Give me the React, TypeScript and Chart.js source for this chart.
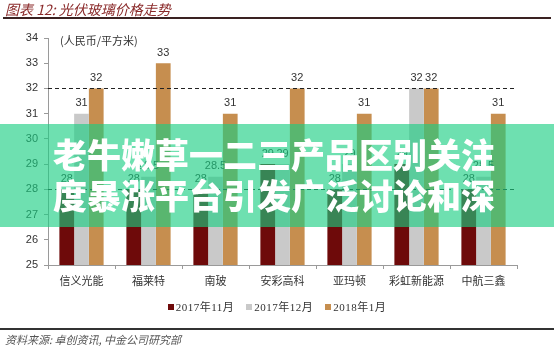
import React, { useEffect, useRef } from "react";
import { Chart, registerables } from "chart.js";

Chart.register(...registerables);

const categories = ["信义光能", "福莱特", "南玻", "安彩高科", "亚玛顿", "彩虹新能源", "中航三鑫"];
const seriesNames = ["2017年11月", "2017年12月", "2018年1月"];
const nov2017 = [28, 28, 28, 29, 28, 29, 28];
const dec2017 = [31, 28.5, 28.5, 29, 29, 32, 28.5];
const jan2018 = [32, 33, 31, 32, 31, 32, 31];
const refLines = [32, 28];
const yMin = 25;
const yMax = 34;

const colors = ["#6E0A0A", "#C9C9C9", "#C68E4F"];

const labelFont = "'Liberation Sans', 'DejaVu Sans', sans-serif";
const cjkFont = "'Noto Sans CJK SC', sans-serif";
const legendFont = "'Liberation Serif', 'Noto Sans CJK SC', serif";

export default function App() {
  const canvasRef = useRef<HTMLCanvasElement | null>(null);

  useEffect(() => {
    document.body.style.margin = "0";
    const canvas = canvasRef.current;
    if (!canvas) return;

    const overlayPlugin = {
      id: "overlayPlugin",
      afterDatasetsDraw(chart: any) {
        const ctx = chart.ctx;
        const area = chart.chartArea;
        const y = chart.scales.y;
        ctx.save();
        ctx.strokeStyle = "#222";
        ctx.lineWidth = 1;
        ctx.setLineDash([4, 3]);
        refLines.forEach((v) => {
          const py = Math.round(y.getPixelForValue(v)) + 0.5;
          ctx.beginPath();
          ctx.moveTo(area.left, py);
          ctx.lineTo(area.right - 2, py);
          ctx.stroke();
        });
        ctx.restore();
        ctx.save();
        ctx.fillStyle = "#333";
        ctx.font = `11px ${labelFont}`;
        ctx.textAlign = "center";
        ctx.textBaseline = "bottom";
        chart.data.datasets.forEach((ds: any, i: number) => {
          const meta = chart.getDatasetMeta(i);
          meta.data.forEach((bar: any, j: number) => {
            ctx.fillText(String(ds.data[j]), bar.x, bar.y - 5);
          });
        });
        ctx.restore();
        ctx.save();
        ctx.fillStyle = "#333";
        ctx.font = `11px ${cjkFont}`;
        ctx.textBaseline = "middle";
        ctx.fillText("(人民币/平方米)", area.left + 12, area.top + 3);
        ctx.restore();
      },
    };

    const chart = new Chart(canvas, {
      type: "bar",
      data: {
        labels: categories,
        datasets: [
          { label: seriesNames[0], data: nov2017, backgroundColor: colors[0] },
          { label: seriesNames[1], data: dec2017, backgroundColor: colors[1] },
          { label: seriesNames[2], data: jan2018, backgroundColor: colors[2] },
        ],
      },
      options: {
        responsive: false,
        animation: false,
        layout: { padding: { top: 38, right: 37, left: 0, bottom: 0 } },
        plugins: {
          legend: { display: false },
          tooltip: { enabled: false },
          title: { display: false },
        },
        datasets: {
          bar: { categoryPercentage: 0.66, barPercentage: 1.0 },
        },
        scales: {
          x: {
            grid: { display: true, drawOnChartArea: false, drawTicks: true, tickLength: 4, color: "#9a9a9a" },
            border: { display: true, color: "#9a9a9a" },
            ticks: { color: "#333", font: { family: cjkFont, size: 11 }, padding: 5 },
            afterFit(scale: any) {
              scale.height = 87;
            },
          },
          y: {
            min: yMin,
            max: yMax,
            ticks: { stepSize: 1, color: "#333", font: { family: labelFont, size: 11 }, padding: 6 },
            grid: { display: true, drawOnChartArea: false, drawTicks: true, tickLength: 4, color: "#9a9a9a" },
            border: { display: true, color: "#9a9a9a" },
            afterFit(scale: any) {
              scale.width = 48;
            },
          },
        },
      },
      plugins: [overlayPlugin],
    } as any);

    return () => chart.destroy();
  }, []);

  return (
    <div style={{ position: "fixed", left: 0, top: 0, width: 554, height: 352, background: "#fff", overflow: "hidden" }}>
      <canvas ref={canvasRef} width={554} height={352} style={{ position: "absolute", left: 0, top: 0, width: 554, height: 352 }} />
      <div
        style={{
          position: "absolute",
          left: 5,
          top: 0,
          fontFamily: cjkFont,
          fontSize: 14,
          fontStyle: "italic",
          color: "#8A2A2A",
          lineHeight: "18px",
        }}
      >
        图表 12: 光伏玻璃价格走势
      </div>
      <div style={{ position: "absolute", left: 3, right: 3, top: 17, height: 2, background: "#3A2222" }} />
      <div
        style={{
          position: "absolute",
          left: 0,
          width: 554,
          top: 298,
          display: "flex",
          justifyContent: "center",
          gap: 12,
          fontFamily: legendFont,
          fontSize: 11,
          color: "#333",
          lineHeight: "18px",
          letterSpacing: 0.5,
        }}
      >
        {seriesNames.map((n, i) => (
          <span key={n} style={{ display: "flex", alignItems: "center" }}>
            <span style={{ display: "inline-block", width: 6, height: 6, background: colors[i], marginRight: 2 }} />
            {n}
          </span>
        ))}
      </div>
      <div style={{ position: "absolute", left: 0, right: 0, top: 328, height: 2, background: "#333" }} />
      <div
        style={{
          position: "absolute",
          left: 5,
          top: 331,
          fontFamily: cjkFont,
          fontSize: 11,
          fontStyle: "italic",
          color: "#555",
          lineHeight: "16px",
        }}
      >
        资料来源: 卓创资讯, 中金公司研究部
      </div>
      <div
        style={{
          position: "absolute",
          left: 0,
          top: 124,
          width: 554,
          height: 103,
          background: "rgba(25,206,130,0.63)",
        }}
      />
      <div
        style={{
          position: "absolute",
          left: 53,
          top: 133,
          fontFamily: cjkFont,
          fontWeight: 900,
          fontSize: 34,
          lineHeight: "41px",
          color: "#fff",
          whiteSpace: "nowrap",
        }}
      >
        老牛嫩草一二三产品区别关注
        <br />
        度暴涨平台引发广泛讨论和深
      </div>
    </div>
  );
}
